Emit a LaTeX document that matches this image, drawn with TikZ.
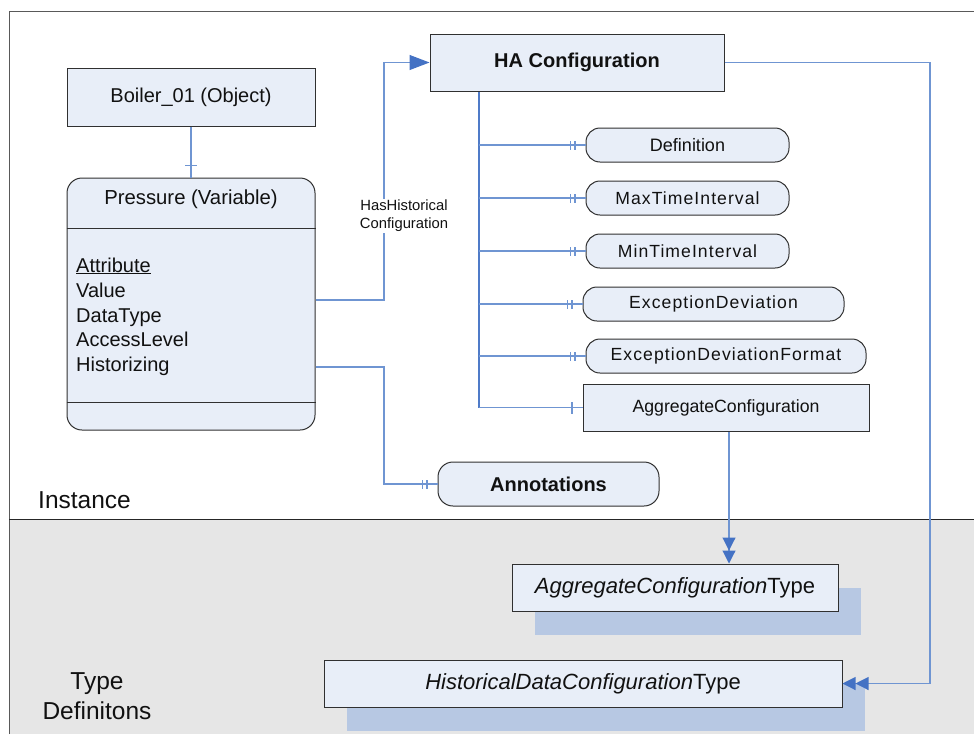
\documentclass[tikz,border=0pt]{standalone}
\usepackage{fontspec}
\setmainfont{Liberation Sans}
\usetikzlibrary{arrows.meta,calc,shadows}
\definecolor{boxfill}{HTML}{E8EEF8}
\definecolor{connc}{HTML}{6F95D2}
\definecolor{trunkc}{HTML}{4F7BC8}
\definecolor{tipc}{HTML}{4472C4}
\definecolor{shadec}{HTML}{B7C8E3}
\definecolor{bggray}{HTML}{E6E6E6}
\definecolor{edgec}{HTML}{303030}
\definecolor{txtc}{HTML}{111111}
\newcommand{\fsz}[1]{\fontsize{#1}{#1}\selectfont}
\newcommand{\dtick}[1]{%
  \draw[connc,line width=1.1pt] ([xshift=-15pt,yshift=-4.5pt]#1.west) -- ++(0,-9);
  \draw[connc,line width=1.1pt] ([xshift=-10.5pt,yshift=-4.5pt]#1.west) -- ++(0,-9);}
\begin{document}
\begin{tikzpicture}[x=1pt,y=-1pt,
  every node/.style={text=txtc},
  sqbox/.style={draw=edgec,line width=1pt,fill=boxfill,inner sep=0pt},
  rbox/.style={sqbox,rounded corners=14pt,minimum height=34pt},
  conn/.style={draw=connc,line width=1.1pt},
  tri/.style={-{Triangle[length=20pt,width=15pt,fill=tipc,color=tipc]}},
  dtri/.style={-{Triangle[length=13pt,width=13pt,fill=tipc,color=tipc,sep=0pt]Triangle[length=13pt,width=13pt,fill=tipc,color=tipc]}},
  shad/.style={drop shadow={shadow xshift=22.5pt,shadow yshift=-23.5pt,fill=shadec,opacity=1}}
]
\useasboundingbox (0,0) rectangle (974,734);
% background regions
\fill[bggray] (9,519) rectangle (974,734);
\draw[color=black!65,line width=1pt] (9,734) -- (9,11) -- (974,11);
\draw[color=black!85,line width=1pt] (9,519) -- (974,519);

% coordinates for connector routes
\coordinate (vx) at (384,0);
\coordinate (tx) at (479,0);
\coordinate (rx) at (930,0);

% nodes
\node[sqbox,minimum width=248pt,minimum height=58pt,font=\fsz{20}] (B) at (191,97) {Boiler\_01 (Object)};
\node[sqbox,rounded corners=15pt,minimum width=248pt,minimum height=252pt] (P) at (191,304) {};
\node[font=\fsz{20.3}] (PH) at (191,199) {Pressure (Variable)};
\draw[edgec,line width=1pt] (P.west |- 0,228) -- (P.east |- 0,228);
\draw[edgec,line width=1pt] (P.west |- 0,402) -- (P.east |- 0,402);
\node[anchor=base west,inner sep=0pt,font=\fsz{20}] (a1) at (76,272) {\underline{Attribute}};
\node[anchor=base west,inner sep=0pt,font=\fsz{20}] (a2) at (76,297) {Value};
\node[anchor=base west,inner sep=0pt,font=\fsz{20}] (a3) at (76,322) {DataType};
\node[anchor=base west,inner sep=0pt,font=\fsz{20}] (a4) at (76,346) {AccessLevel};
\node[anchor=base west,inner sep=0pt,font=\fsz{20}] (a5) at (76,371) {Historizing};

\node[sqbox,minimum width=294pt,minimum height=57pt,font=\fsz{20}\bfseries] (HA) at (577,62.5) {HA Configuration};
\node[rbox,minimum width=203pt,font=\fsz{18}] (D) at (687.5,145) {Definition};
\node[rbox,minimum width=203pt,font=\fsz{17.6}\addfontfeature{LetterSpace=6}] (MX) at (687.5,198) {MaxTimeInterval};
\node[rbox,minimum width=203pt,font=\fsz{17.6}\addfontfeature{LetterSpace=6}] (MN) at (687.5,251) {MinTimeInterval};
\node[rbox,minimum width=261pt,font=\fsz{17.6}\addfontfeature{LetterSpace=6}] (ED) at (713.5,304) {ExceptionDeviation};
\node[rbox,minimum width=280pt,font=\fsz{17.6}\addfontfeature{LetterSpace=6}] (EF) at (726,356) {ExceptionDeviationFormat};
\node[sqbox,minimum width=286pt,minimum height=47pt,font=\fsz{17.7}] (AC) at (726,407.5) {AggregateConfiguration};
\node[sqbox,rounded corners=15pt,minimum width=221pt,minimum height=44pt,font=\fsz{20}\bfseries] (AN) at (548.5,484) {Annotations};

\node[sqbox,shad,minimum width=326pt,minimum height=47pt,font=\fsz{22}] (ACT) at (675,587.5) {\textit{AggregateConfiguration}Type};
\node[sqbox,shad,minimum width=518pt,minimum height=47pt,font=\fsz{22}] (HD) at (583,683.5) {\textit{HistoricalDataConfiguration}Type};

\node[anchor=base west,inner sep=0pt,font=\fsz{24.5}] (inst) at (38,508) {Instance};
\node[align=center,inner sep=0pt,font=\fontsize{24.5}{30}\selectfont] (tdef) at (97,696) {Type\\Definitons};

% connectors
\draw[conn] (B.south) -- (P.north);
\draw[conn] ([xshift=-6pt,yshift=12pt]P.north) -- ++(12,0);

\draw[conn,tri] ([yshift=4pt]P.east) -| (vx |- HA.west) -- (HA.west);
\node[fill=white,align=center,inner sep=1pt,font=\fontsize{14.8}{18}\selectfont] (lbl) at (404,216) {HasHistorical\\Configuration};

\draw[conn] ([yshift=-63pt]P.east) -| (vx |- AN.west) -- (AN.west);
\dtick{AN}

\draw[draw=trunkc,line width=1.6pt] (tx |- HA.south) -- (tx |- AC.west);
\foreach \n in {D,MX,MN,ED,EF,AC}{\draw[conn] (tx |- \n.west) -- (\n.west);}
\dtick{D}\dtick{MX}\dtick{MN}\dtick{ED}\dtick{EF}
\draw[conn] ([xshift=-10.5pt,yshift=-6pt]AC.west) -- ++(0,-12);

\draw[conn,dtri] ([xshift=3pt]AC.south) -- ([xshift=3pt]AC.south |- ACT.north);
\draw[conn,dtri] (HA.east) -| (rx |- HD.east) -- (HD.east);
\end{tikzpicture}
\end{document}
